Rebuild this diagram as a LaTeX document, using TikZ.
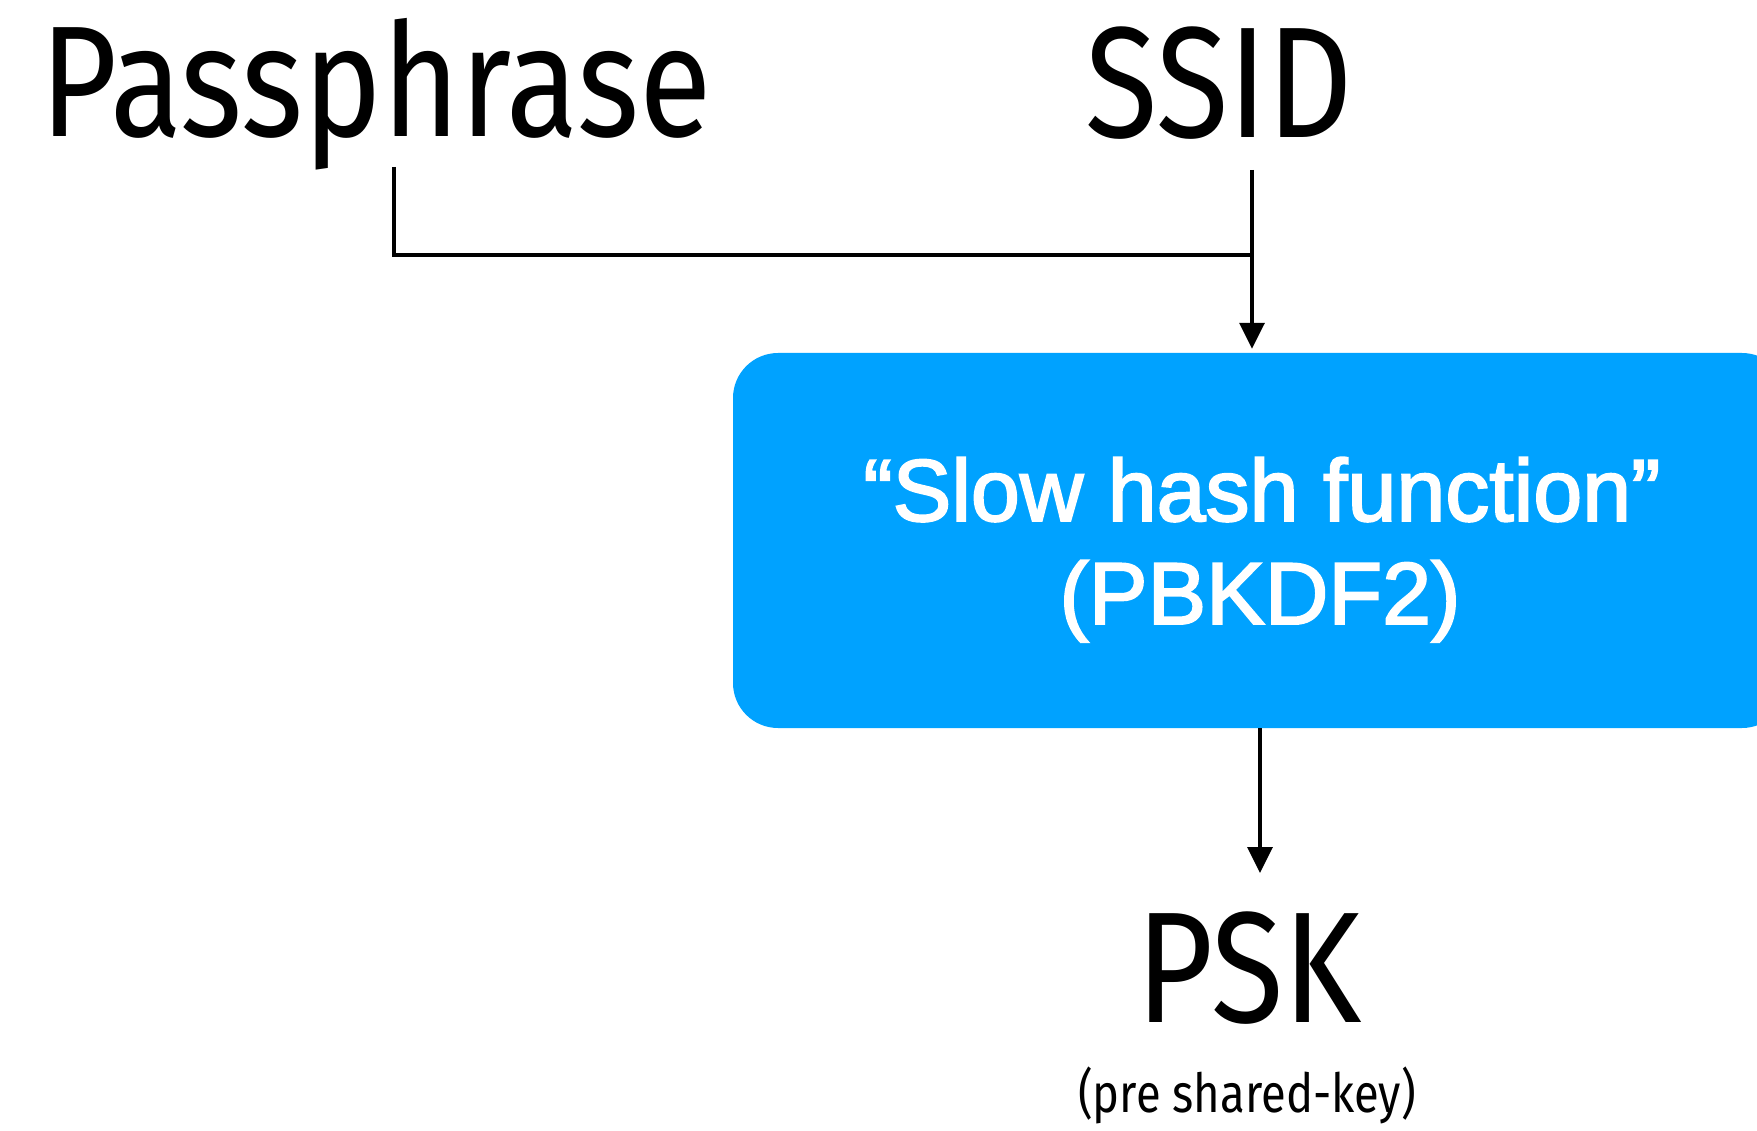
\documentclass[tikz,border=0pt]{standalone}
\usepackage{fontspec}
\usetikzlibrary{arrows.meta}
\newfontfamily\condfont[FakeStretch=0.84]{Fira Sans}
\newfontfamily\boxfont[FakeBold=2.2]{Liberation Sans}
\definecolor{hashblue}{RGB}{0,162,255}
\tikzset{
  bigword/.style={font=\condfont\fontsize{158}{160}\selectfont, inner sep=0pt, anchor=base},
  smallword/.style={font=\condfont\fontsize{54}{58}\selectfont, inner sep=0pt, anchor=base},
  hashbox/.style={fill=hashblue, rounded corners=45pt, inner sep=0pt},
  hashtxt/.style={font=\boxfont\fontsize{88}{90}\selectfont, text=white, inner sep=0pt, anchor=base},
  wire/.style={line width=3.4pt},
  arr/.style={wire, -{Triangle[length=26pt,width=25pt]}}
}
\begin{document}
\begin{tikzpicture}[x=1pt,y=-1pt]
  \useasboundingbox (0,0) rectangle (1757,1131);
  \clip (0,0) rectangle (1757,1131);

  % inputs
  \node[bigword] (pass) at (376,137) {Passphrase};
  \node[bigword] (ssid) at (1219,138) {SSID};

  % hashing step
  \node[hashbox, minimum width=1054pt, minimum height=375pt] (hash) at (1260,540.5) {};
  \node[hashtxt] (hashname) at (1262,521) {“Slow hash function”};
  \node[hashtxt] (hashalgo) at (1260,624) {(PBKDF2)};

  % output
  \node[bigword] (psk) at (1249,1022) {PSK};
  \node[smallword] (pskname) at (1247,1112) {(pre shared-key)};

  % connectors
  \coordinate (passfoot) at (394,167);
  \coordinate (ssidfoot) at (1252,170);
  \coordinate (join) at (1252,255);
  \draw[wire] (passfoot) |- (join);
  \draw[arr, shorten >=4pt] (ssidfoot) -- (ssidfoot |- hash.north);
  \draw[arr, shorten >=38pt] (hash.south) -- (hash.south |- psk.north);
\end{tikzpicture}
\end{document}
